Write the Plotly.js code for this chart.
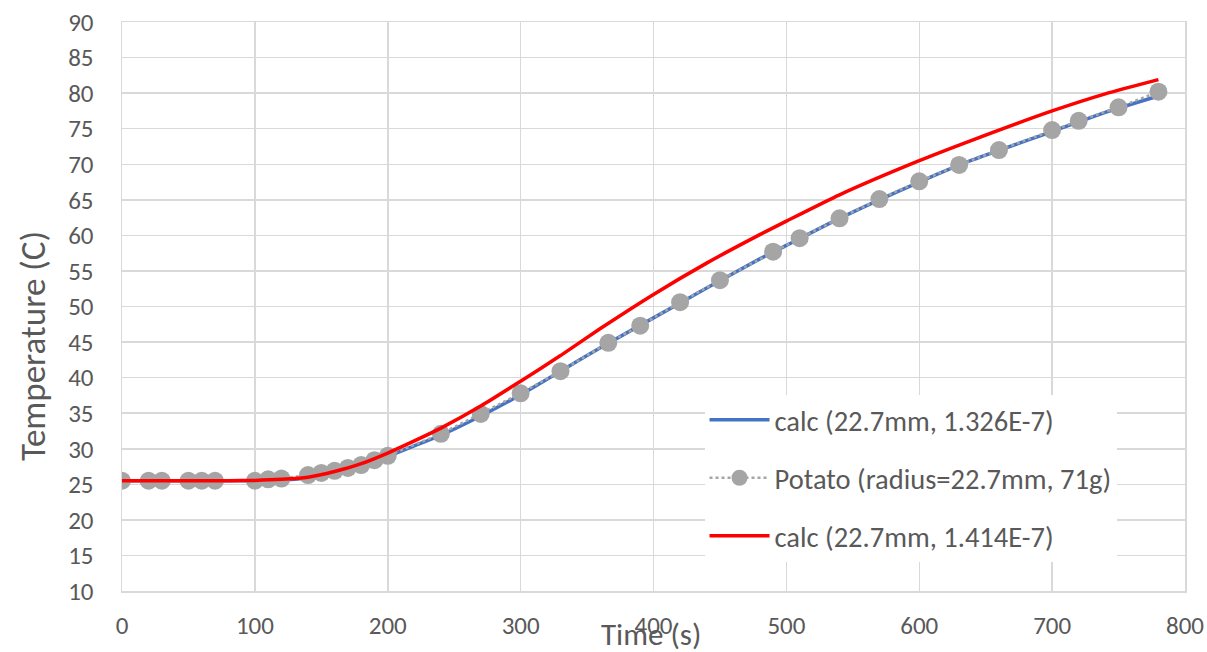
<!DOCTYPE html>
<html>
<head>
<meta charset="utf-8">
<script src="https://cdn.plot.ly/plotly-3.0.1.min.js"></script>
<style>html,body{margin:0;padding:0;background:#fff;}#chart{width:1207px;height:652px;}</style>
</head>
<body>
<div id="chart"></div>
<script>
// Measured potato data
const potatoTime = [0,20,30,50,60,70,100,110,120,140,150,160,170,180,190,200,240,270,300,330,366,390,420,450,490,510,540,570,600,630,660,700,720,750,780];
const potatoTemp = [25.5,25.5,25.5,25.5,25.5,25.5,25.5,25.7,25.8,26.3,26.6,26.9,27.3,27.7,28.4,29.0,32.1,34.9,37.8,40.9,44.9,47.3,50.6,53.7,57.7,59.6,62.4,65.1,67.6,69.9,72.0,74.8,76.1,78.0,80.2];

// Calculated curve, alpha = 1.326E-7
const calcBlueTime = [0,20,40,60,80,100,120,140,160,180,200,220,240,270,300,330,360,400,440,480,500,540,600,640,700,740,780];
const calcBlueTemp = [25.5,25.5,25.5,25.5,25.5,25.5,25.6,25.9,26.4,27.4,28.9,30.4,31.9,34.6,37.6,40.9,44.2,48.4,52.6,56.7,58.6,62.4,67.5,70.6,74.6,77.3,79.6];

// Calculated curve, alpha = 1.414E-7
const calcRedTime = [0,20,40,60,80,100,120,140,160,180,200,220,240,270,300,330,360,400,440,480,500,540,600,640,700,740,780];
const calcRedTemp = [25.5,25.5,25.5,25.5,25.5,25.55,25.7,26.0,26.8,27.9,29.4,31.1,32.9,36.0,39.5,43.1,46.9,51.7,56.1,60.1,62.0,65.7,70.5,73.4,77.5,79.9,81.9];

const seriesNames = ["calc (22.7mm, 1.326E-7)", "Potato (radius=22.7mm, 71g)", "calc (22.7mm, 1.414E-7)"];
const xTitle = "Time (s)";
const yTitle = "Temperature (C)";

const font = "Calibri, Carlito, Lato, 'Open Sans', sans-serif";
const txt = "#595959";

const traces = [
  {x: calcBlueTime, y: calcBlueTemp, mode: "lines", name: seriesNames[0], legendgroup: "a",
   line: {color: "#4472C4", width: 3.5, shape: "spline", smoothing: 0.6}},
  {x: potatoTime, y: potatoTemp, mode: "lines+markers", name: seriesNames[1], legendgroup: "b",
   line: {color: "#A5A5A5", width: 2.5, dash: "dot"},
   marker: {color: "#A5A5A5", size: 18}},
  {x: calcRedTime, y: calcRedTemp, mode: "lines", name: seriesNames[2], legendgroup: "c",
   line: {color: "#FF0000", width: 3.5, shape: "spline", smoothing: 0.6}}
];

const layout = {
  width: 1207, height: 652,
  margin: {l: 122, r: 22, t: 22, b: 61},
  paper_bgcolor: "#fff", plot_bgcolor: "#fff",
  font: {family: font, color: txt, size: 25},
  showlegend: true,
  legend: {
    x: 0.548, y: 0.345, xanchor: "left", yanchor: "top",
    bgcolor: "#fff", borderwidth: 0,
    font: {family: font, size: 28.5, color: txt},
    traceorder: "grouped", tracegroupgap: 18,
    itemwidth: 60
  },
  xaxis: {
    range: [0, 800], dtick: 100, tick0: 0,
    showgrid: true, gridcolor: "#D9D9D9", gridwidth: 1.5,
    zeroline: false, showline: true, linecolor: "#D9D9D9", linewidth: 1.5, mirror: true,
    ticks: "outside", ticklen: 11, tickcolor: "rgba(0,0,0,0)",
    tickfont: {family: font, size: 25, color: txt}
  },
  yaxis: {
    range: [10, 90], dtick: 5, tick0: 10,
    showgrid: true, gridcolor: "#D9D9D9", gridwidth: 1.5,
    zeroline: false, showline: true, linecolor: "#D9D9D9", linewidth: 1.5, mirror: true,
    ticks: "outside", ticklen: 22, tickcolor: "rgba(0,0,0,0)",
    tickfont: {family: font, size: 25, color: txt}
  },
  annotations: [
    {text: xTitle, xref: "paper", yref: "paper", x: 0.498, y: -0.076, xanchor: "center", yanchor: "middle",
     showarrow: false, font: {family: font, size: 31, color: txt}},
    {text: yTitle, xref: "paper", yref: "paper", x: -0.0837, y: 0.4306, xanchor: "center", yanchor: "middle",
     textangle: -90, showarrow: false, font: {family: font, size: 35, color: txt}}
  ]
};

Plotly.newPlot("chart", traces, layout, {displayModeBar: false, staticPlot: true});
</script>
</body>
</html>
